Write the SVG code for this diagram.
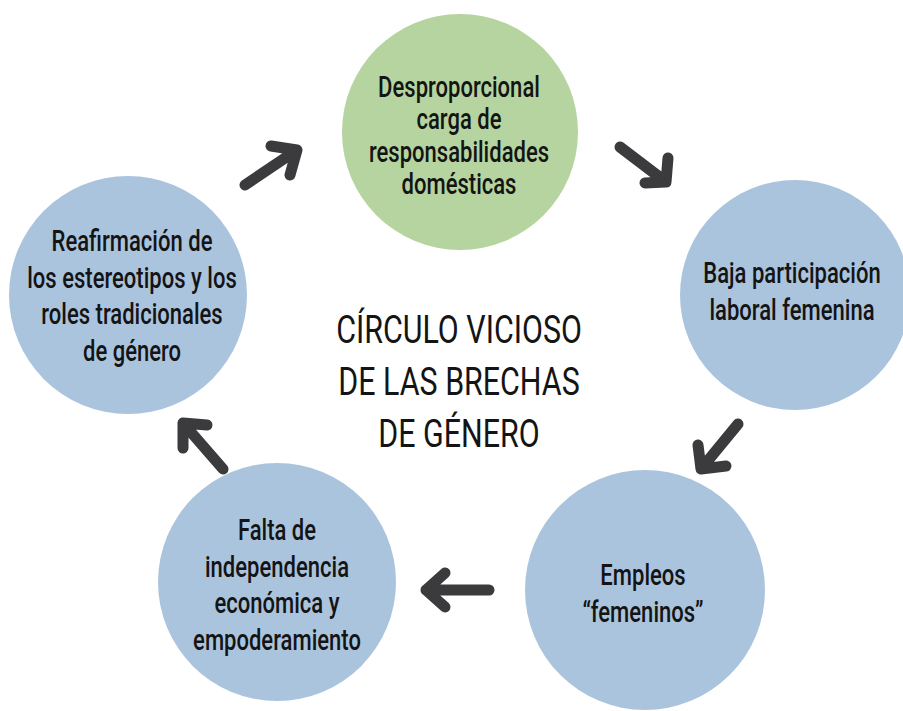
<svg xmlns="http://www.w3.org/2000/svg" width="903" height="711" viewBox="0 0 903 711">
<style>
.bg{fill:#ffffff}
.green{fill:#b6d49f}
.blue{fill:#abc4de}
.lbl{font-family:Roboto,"Liberation Sans",sans-serif;font-weight:500;font-size:29px;fill:#141414;text-anchor:middle}
.title{font-family:Roboto,"Liberation Sans",sans-serif;font-weight:400;font-size:38px;fill:#141414;text-anchor:middle}
.arr{fill:none;stroke:#3b3b3d;stroke-width:11;stroke-linecap:round;stroke-linejoin:round}
</style>
<rect class="bg" x="0" y="0" width="903" height="711"/>
<g id="n1">
<circle class="green" cx="460" cy="132" r="118"/>
<g transform="translate(459,0) scale(0.76,1)"><text class="lbl"><tspan x="0" y="97">Desproporcional</tspan><tspan x="0" y="129">carga de</tspan><tspan x="0" y="162">responsabilidades</tspan><tspan x="0" y="194">domésticas</tspan></text></g>
</g>
<g id="n2">
<circle class="blue" cx="795" cy="295" r="115"/>
<g transform="translate(792,0) scale(0.76,1)"><text class="lbl"><tspan x="0" y="283">Baja participación</tspan><tspan x="0" y="320">laboral femenina</tspan></text></g>
</g>
<g id="n3">
<circle class="blue" cx="645" cy="590" r="120"/>
<g transform="translate(643,0) scale(0.76,1)"><text class="lbl"><tspan x="0" y="585">Empleos</tspan><tspan x="0" y="622">“femeninos”</tspan></text></g>
</g>
<g id="n4">
<circle class="blue" cx="277" cy="582" r="119"/>
<g transform="translate(277,0) scale(0.76,1)"><text class="lbl"><tspan x="0" y="540">Falta de</tspan><tspan x="0" y="577">independencia</tspan><tspan x="0" y="613">económica y</tspan><tspan x="0" y="650">empoderamiento</tspan></text></g>
</g>
<g id="n5">
<circle class="blue" cx="128" cy="295" r="119"/>
<g transform="translate(132,0) scale(0.76,1)"><text class="lbl"><tspan x="0" y="251">Reafirmación de</tspan><tspan x="0" y="288">los estereotipos y los</tspan><tspan x="0" y="324">roles tradicionales</tspan><tspan x="0" y="361">de género</tspan></text></g>
</g>
<g id="title">
<g transform="translate(459,0) scale(0.8,1)"><text class="title"><tspan x="0" y="343">CÍRCULO VICIOSO</tspan><tspan x="0" y="395">DE LAS BRECHAS</tspan><tspan x="0" y="447">DE GÉNERO</tspan></text></g>
</g>
<g id="connectors">
<path class="arr" d="M245,185 L297,150 M271,146 L297,150 L290,175"/>
<path class="arr" d="M620,147 L666,182 M668,158 L666,182 L645,183"/>
<path class="arr" d="M738,424 L701,469 M698,445 L701,469 L726,466"/>
<path class="arr" d="M489,590 L426,590 M445,573 L426,590 L445,607"/>
<path class="arr" d="M223,469 L183,423 M207,425 L183,423 L183,448"/>
</g>
</svg>
